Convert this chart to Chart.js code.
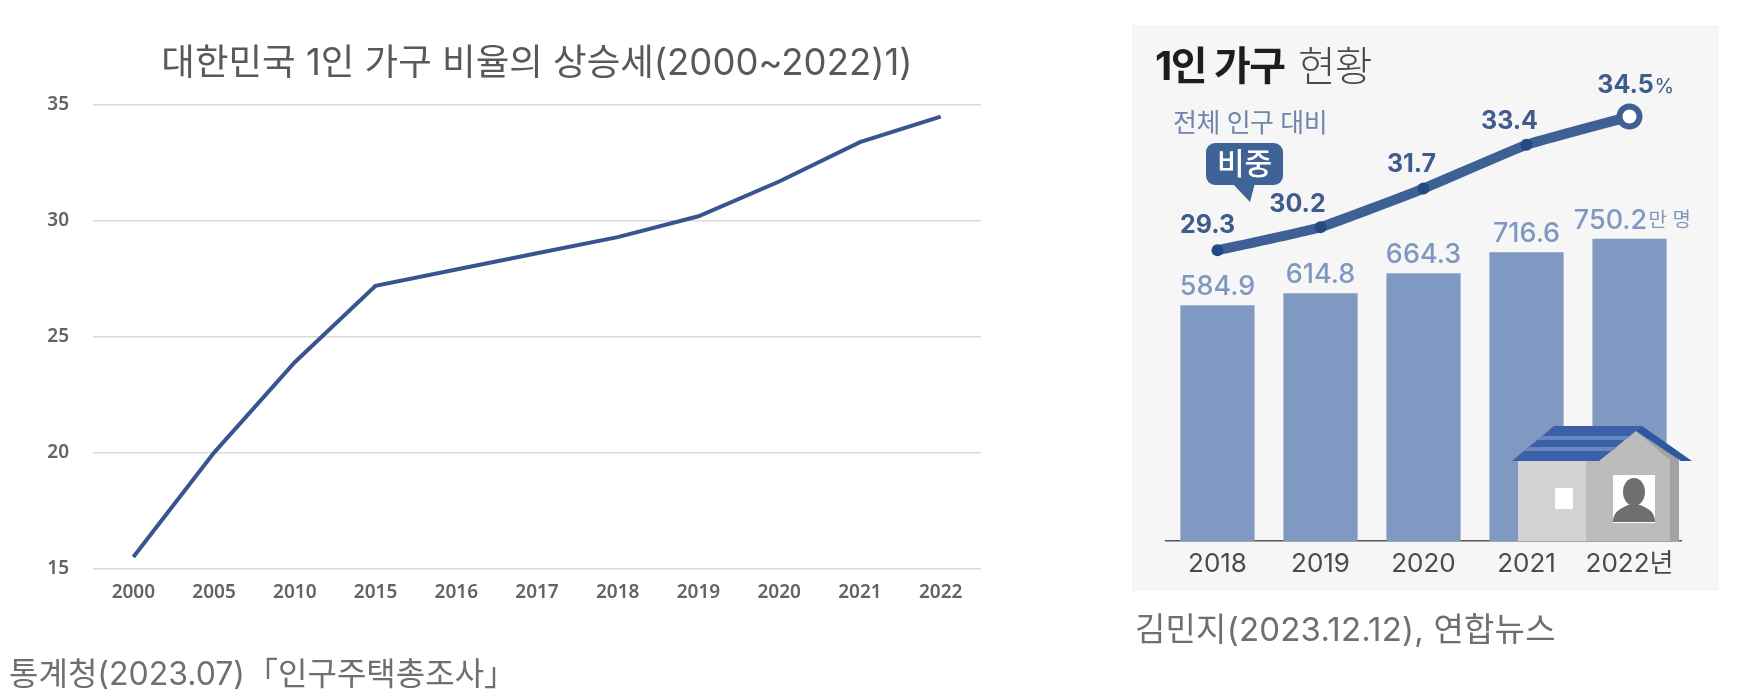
<!DOCTYPE html>
<html lang="ko">
<head>
<meta charset="utf-8">
<title>1인 가구</title>
<script src="https://cdn.jsdelivr.net/npm/chart.js@4/dist/chart.umd.min.js"></script>
<style>
  html, body { margin: 0; background: #fff; font-family: Inter, "Noto Sans CJK KR", sans-serif; }
  #page { position: relative; width: 1738px; height: 700px; overflow: hidden; }
  #left-wrap { position: absolute; left: 0; top: 0; width: 1000px; height: 640px; }
  #panel { position: absolute; left: 1132px; top: 25px; width: 587px; height: 566px; background: #f6f6f6; }
  #right-wrap { position: absolute; left: 1132px; top: 25px; width: 587px; height: 566px; }
  #overlay { position: absolute; left: 0; top: 0; width: 1738px; height: 700px; }
  .txt { position: absolute; white-space: nowrap; line-height: 1; }
  .caption { color: #6f6f6b; }
</style>
</head>
<body>
<div id="page">
  <div id="left-wrap"><canvas id="trend"></canvas></div>
  <div id="panel"></div>
  <div id="right-wrap"><canvas id="status"></canvas></div>
  <svg id="overlay" viewBox="0 0 1738 700">
    <!-- speech bubble -->
    <rect x="1206" y="143" width="77" height="42" rx="9" fill="#3f6396"/>
    <path d="M1232 183 L1250 202 L1255 183 Z" fill="#3f6396"/>
    <!-- house -->
    <polygon points="1518,460 1586,460 1586,541 1518,541" fill="#d3d3d5"/>
    <polygon points="1586,460 1599,460 1636,431 1670,460 1670,541 1586,541" fill="#bcbcbc"/>
    <polygon points="1670,460 1636,431 1644,427 1679,460 1679,541 1670,541" fill="#a2a2a2"/>
    <polygon points="1512,461 1554,426 1642,426 1599,461" fill="#3c5fa9"/>
    <polygon points="1537,440 1542,436 1630,436 1625,440" fill="#6a86c0"/>
    <polygon points="1524,451 1529,447 1617,447 1612,451" fill="#6a86c0"/>
    <polygon points="1642,426 1692,461 1681,461 1636,431" fill="#2f579f"/>
    <rect x="1555" y="488" width="18" height="21" fill="#fff"/>
    <rect x="1613" y="475" width="42" height="48" fill="#fff"/>
    <ellipse cx="1634" cy="492" rx="11" ry="14" fill="#6f6f6f"/>
    <path d="M1613 522 C1613 511 1622 508 1628 505 L1640 505 C1647 508 1655 511 1655 522 Z" fill="#6f6f6f"/>
  </svg>
  <div id="trend-title" class="txt" style="left:0;top:44px;width:1074px;text-align:center;font-size:36.5px;color:#595959;"></div>
  <div class="txt" style="left:1155px;top:46px;font-size:40px;font-weight:700;color:#1e1e1e;letter-spacing:-1.5px;">1인 가구</div>
  <div class="txt" style="left:1298px;top:46px;font-size:41px;font-weight:300;color:#4a4a4a;letter-spacing:-1px;">현황</div>
  <div class="txt" style="left:1173px;top:110px;font-size:26px;color:#6f87ad;letter-spacing:-0.5px;">전체 인구 대비</div>
  <div class="txt" style="left:1206px;top:148px;width:77px;text-align:center;font-size:30px;font-weight:500;color:#fff;">비중</div>
  <div class="txt caption" style="left:9px;top:658px;font-size:32px;">통계청(2023.07)<span style="letter-spacing:-8px"> </span>「인구주택총조사」</div>
  <div class="txt caption" style="left:1135px;top:613px;font-size:33px;letter-spacing:0.2px;">김민지(2023.12.12), 연합뉴스</div>
</div>

<script>
// left chart
const trendYears = ["2000", "2005", "2010", "2015", "2016", "2017", "2018", "2019", "2020", "2021", "2022"];
const trendRatio = [15.5, 20.0, 23.9, 27.2, 27.9, 28.6, 29.3, 30.2, 31.7, 33.4, 34.5];
const trendTitle = "대한민국 1인 가구 비율의 상승세(2000~2022)1)";

// right chart
const statusYears = ["2018", "2019", "2020", "2021", "2022년"];
const households = [584.9, 614.8, 664.3, 716.6, 750.2];
const shares = [29.3, 30.2, 31.7, 33.4, 34.5];

const krFont = 'Inter, "Noto Sans CJK KR", sans-serif';

document.getElementById("trend-title").textContent = trendTitle;

function fixedAxis(size, isWidth) {
  return function(axis) {
    if (isWidth) axis.width = size; else axis.height = size;
  };
}

new Chart(document.getElementById("trend"), {
  type: "line",
  data: {
    labels: trendYears,
    datasets: [{
      data: trendRatio,
      borderColor: "#38558f",
      borderWidth: 4,
      pointRadius: 0,
      tension: 0
    }]
  },
  options: {
    responsive: true,
    maintainAspectRatio: false,
    animation: false,
    layout: { padding: { right: 19, top: 105 } },
    plugins: {
      legend: { display: false },
      tooltip: { enabled: false },
      title: { display: false }
    },
    scales: {
      x: {
        offset: true,
        afterFit: fixedAxis(71.5, false),
        grid: { display: false },
        border: { display: false },
        ticks: { color: "#636363", font: { family: "Noto Sans", size: 19, weight: "600" }, padding: 5, maxRotation: 0, autoSkip: false }
      },
      y: {
        min: 15,
        max: 35,
        afterFit: fixedAxis(93, true),
        grid: { color: "#d9d9d9", lineWidth: 1.5, drawTicks: false },
        border: { display: false },
        ticks: { stepSize: 5, color: "#636363", font: { family: "Noto Sans", size: 19, weight: "600" }, padding: 24 }
      }
    }
  }
});

// value labels on the right chart
const shareOffsets = [[-10, -25], [-23, -23], [-12, -24], [-17, -23], [-4, -31]];
const valueLabels = {
  id: "valueLabels",
  afterDatasetsDraw(chart) {
    const ctx = chart.ctx;
    ctx.save();
    ctx.textAlign = "center";
    ctx.textBaseline = "middle";

    const bars = chart.getDatasetMeta(1).data;
    ctx.font = `500 27px ${krFont}`;
    ctx.fillStyle = "#8098bf";
    bars.forEach((bar, i) => {
      const shift = i === bars.length - 1 ? -19 : 0;
      ctx.fillText(households[i].toFixed(1), bar.x + shift, bar.y - 18);
    });
    const lastBar = bars[bars.length - 1];
    ctx.font = `400 20px ${krFont}`;
    ctx.textAlign = "left";
    ctx.fillText("만 명", lastBar.x + 19, lastBar.y - 18);

    const points = chart.getDatasetMeta(0).data;
    ctx.textAlign = "center";
    ctx.fillStyle = "#3f5c8c";
    ctx.font = `700 25px ${krFont}`;
    points.forEach((pt, i) => {
      const [dx, dy] = shareOffsets[i];
      ctx.fillText(shares[i].toFixed(1), pt.x + dx, pt.y + dy);
    });
    const lastPt = points[points.length - 1];
    ctx.font = `400 20px ${krFont}`;
    ctx.textAlign = "left";
    ctx.fillText("%", lastPt.x + 25, lastPt.y - 30);
    ctx.restore();
  }
};

new Chart(document.getElementById("status"), {
  type: "bar",
  data: {
    labels: statusYears,
    datasets: [
      {
        type: "line",
        data: shares,
        yAxisID: "yShare",
        order: 0,
        borderColor: "#3e6094",
        borderWidth: 10,
        borderCapStyle: "round",
        tension: 0.12,
        pointRadius: [6, 6, 6, 6, 10],
        pointBorderWidth: [0, 0, 0, 0, 6],
        pointBorderColor: "#3e6094",
        pointBackgroundColor: ["#234a85", "#234a85", "#234a85", "#234a85", "#ffffff"]
      },
      {
        data: households,
        yAxisID: "yCount",
        order: 1,
        backgroundColor: "#7f99c2",
        barPercentage: 0.72,
        categoryPercentage: 1
      }
    ]
  },
  options: {
    responsive: true,
    maintainAspectRatio: false,
    animation: false,
    layout: { padding: { left: 34, right: 38, top: 32.4 } },
    plugins: { legend: { display: false }, tooltip: { enabled: false }, title: { display: false } },
    scales: {
      x: {
        afterFit: fixedAxis(50, false),
        grid: { display: false },
        border: { color: "#555555", width: 1.5 },
        ticks: { color: "#4a4a4a", font: { family: krFont, size: 26 }, padding: 0, maxRotation: 0, autoSkip: false }
      },
      yCount: { display: false, min: 0, max: 1200 },
      yShare: { display: false, min: 18, max: 36.8 }
    }
  },
  plugins: [valueLabels]
});
</script>
</body>
</html>
